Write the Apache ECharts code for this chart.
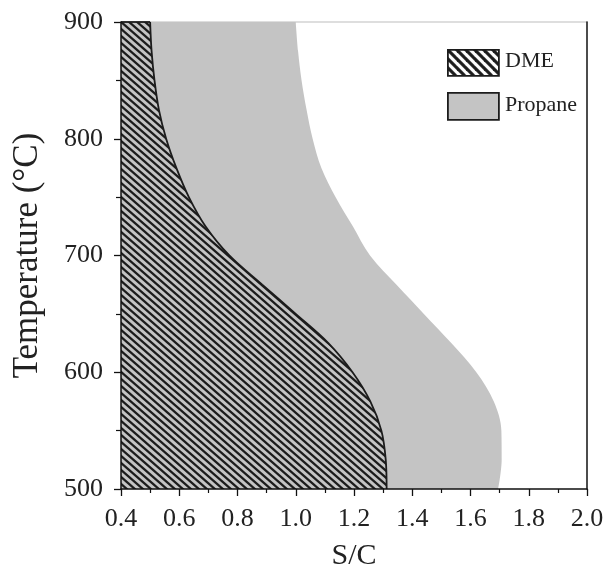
<!DOCTYPE html>
<html>
<head>
<meta charset="utf-8">
<script src="https://cdn.jsdelivr.net/npm/echarts@6/dist/echarts.min.js"></script>
<style>
html,body{margin:0;padding:0;background:#fff;}
#chart{width:606px;height:568px;}
</style>
</head>
<body>
<div id="chart"></div>
<script>
// Temperature categories (°C), bottom to top
const temps = ['500','525','550','575','600','625','650','675','700','725','750','775','800','825','850','875','900'];
// S/C boundary of DME region at each temperature
const dmeSC = [1.312,1.309,1.294,1.256,1.195,1.112,1.000,0.885,0.772,0.690,0.633,0.590,0.555,0.530,0.515,0.505,0.500];
// S/C boundary of Propane region at each temperature
const propaneSC = [1.695,1.707,1.706,1.680,1.620,1.534,1.440,1.346,1.255,1.196,1.137,1.088,1.058,1.037,1.020,1.008,1.000];
// Axis ticks
const xTicks = [0.4,0.6,0.8,1.0,1.2,1.4,1.6,1.8,2.0];
const yTicks = [500,600,700,800,900];
const seriesNames = ['DME','Propane'];

const FONT = 'Liberation Serif';
const GRAY = '#c4c4c4';
const DARK = '#1c1c1c';

function makeHatch(W, H, bg, fg, lw) {
  const c = document.createElement('canvas');
  c.width = W; c.height = H;
  const ctx = c.getContext('2d');
  ctx.fillStyle = bg; ctx.fillRect(0,0,W,H);
  ctx.strokeStyle = fg; ctx.lineWidth = lw;
  for (let k = -1; k <= 1; k++) {
    ctx.beginPath();
    ctx.moveTo(k*W - 2*W, -2*H);
    ctx.lineTo(k*W + 2*W, 2*H);
    ctx.stroke();
  }
  return c;
}
const hatchPlot = makeHatch(8, 7, GRAY, DARK, 2.3);
const hatchLegend = makeHatch(9, 9, '#ffffff', DARK, 3.2);

const chart = echarts.init(document.getElementById('chart'), null, {renderer:'canvas'});
const option = {
  animation: false,
  backgroundColor: '#fff',
  grid: {left: 121, right: 19, top: 22, bottom: 79, containLabel: false, outerBoundsMode: 'none'},
  xAxis: [
    {
      type: 'value', position: 'bottom', min: xTicks[0], max: xTicks[xTicks.length-1], interval: 0.2,
      z: 5,
      name: 'S/C', nameLocation: 'middle', nameGap: 52,
      nameTextStyle: {fontFamily: FONT, fontSize: 30, color: '#222'},
      axisLine: {show: true, lineStyle: {color: '#111', width: 1.5}},
      axisTick: {show: true, inside: false, length: 7, lineStyle: {color: '#111', width: 1.3}},
      minorTick: {show: true, splitNumber: 2, length: 4, lineStyle: {color: '#111', width: 1.2}},
      axisLabel: {fontFamily: FONT, fontSize: 26, color: '#222', margin: 17,
        formatter: v => v.toFixed(1)},
      splitLine: {show: false}
    },
    {
      type: 'value', position: 'top', min: xTicks[0], max: xTicks[xTicks.length-1], z: 1,
      axisLine: {show: true, lineStyle: {color: '#d4d4d4', width: 1.5}},
      axisTick: {show: false}, axisLabel: {show: false}, splitLine: {show: false}
    }
  ],
  yAxis: [
    {
      type: 'value', position: 'left', min: yTicks[0], max: yTicks[yTicks.length-1], interval: 100,
      z: 5,
      name: 'Temperature (°C)', nameLocation: 'middle', nameGap: 76,
      nameTextStyle: {fontFamily: FONT, fontSize: 35, color: '#222'},
      axisLine: {show: true, lineStyle: {color: '#111', width: 1.5}},
      axisTick: {show: true, inside: false, length: 7, lineStyle: {color: '#111', width: 1.3}},
      minorTick: {show: true, splitNumber: 2, length: 5, lineStyle: {color: '#111', width: 1.2}},
      axisLabel: {fontFamily: FONT, fontSize: 26, color: '#222', margin: 18},
      splitLine: {show: false}
    },
    {
      type: 'category', position: 'right', data: temps, boundaryGap: false, z: 5,
      axisLine: {show: true, lineStyle: {color: '#111', width: 1.5}},
      axisTick: {show: false}, axisLabel: {show: false}, splitLine: {show: false}
    }
  ],
  series: [
    {
      name: seriesNames[1], type: 'line', xAxisIndex: 0, yAxisIndex: 1, z: 2,
      data: propaneSC, smooth: 0.35, symbol: 'none',
      lineStyle: {width: 0, opacity: 0},
      areaStyle: {color: GRAY, opacity: 1}
    },
    {
      name: seriesNames[0], type: 'line', xAxisIndex: 0, yAxisIndex: 1, z: 3,
      data: dmeSC, smooth: 0.35, symbol: 'none',
      lineStyle: {width: 1.8, color: DARK},
      areaStyle: {color: {image: hatchPlot, repeat: 'repeat'}, opacity: 1}
    },
    {
      name: 'DME top', type: 'line', xAxisIndex: 0, yAxisIndex: 1, z: 4,
      data: [[xTicks[0], temps[temps.length-1]], [dmeSC[dmeSC.length-1], temps[temps.length-1]]],
      symbol: 'none', lineStyle: {width: 1.8, color: DARK}, silent: true
    }
  ],
  graphic: [
    {type: 'rect', left: 447, top: 49, shape: {width: 51, height: 26},
     style: {fill: {image: hatchLegend, repeat: 'repeat'}, stroke: DARK, lineWidth: 1.8}},
    {type: 'text', left: 505, top: 50, style: {text: seriesNames[0], fontFamily: FONT, fontSize: 22, fill: '#222'}},
    {type: 'rect', left: 447, top: 92, shape: {width: 51, height: 27},
     style: {fill: GRAY, stroke: DARK, lineWidth: 1.8}},
    {type: 'text', left: 505, top: 94, style: {text: seriesNames[1], fontFamily: FONT, fontSize: 22, fill: '#222'}}
  ]
};
chart.setOption(option);
</script>
</body>
</html>
